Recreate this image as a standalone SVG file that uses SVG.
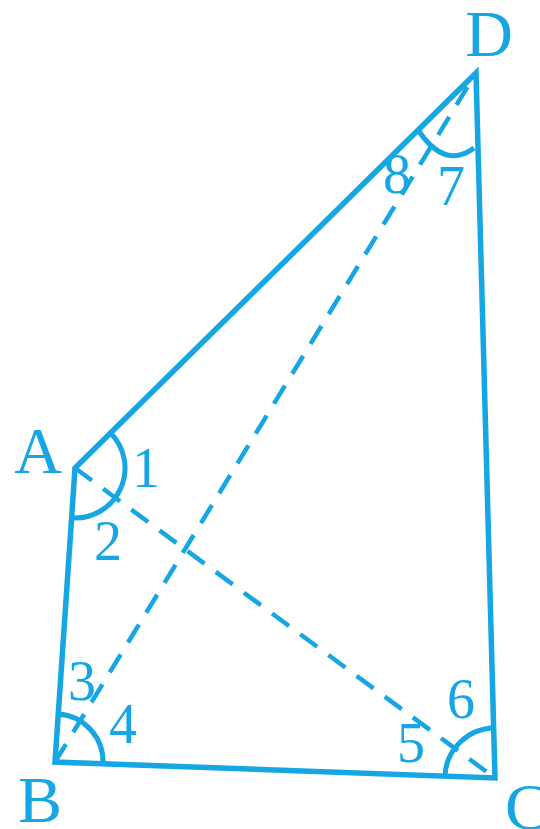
<svg xmlns="http://www.w3.org/2000/svg" width="540" height="829" viewBox="0 0 540 829">
  <style>
    .edge { stroke: #16a6e3; stroke-width: 5.5; fill: none; stroke-linejoin: miter; }
    .diag { stroke: #16a6e3; stroke-width: 4.5; fill: none; stroke-dasharray: 21 14; }
    .arc { stroke: #16a6e3; stroke-width: 5; fill: none; }
    .lbl { font-family: "Liberation Serif", "Times New Roman", serif; font-size: 66px; fill: #16a6e3; text-anchor: middle; }
    .num { font-family: "Liberation Serif", "Times New Roman", serif; font-size: 56px; fill: #16a6e3; text-anchor: middle; }
  </style>
  <rect width="540" height="829" fill="#ffffff"/>

  <g id="connectors">
    <path id="quad" class="edge" d="M75,468 L476,73 L495,778 L55,762 Z"/>
    <line id="diag-AC" class="diag" x1="75" y1="468" x2="495" y2="778"/>
    <line id="diag-BD" class="diag" x1="55" y1="762" x2="476" y2="73"/>
  </g>

  <g id="angle-arcs">
    <path id="arc-A" class="arc" d="M110.6,432.9 A50,50 0 0 1 71.6,517.9"/>
    <path id="arc-B" class="arc" d="M58.3,714 A48,48 0 0 1 103,763.7"/>
    <path id="arc-C" class="arc" d="M445,776.2 A50,50 0 0 1 493.7,728"/>
    <path id="arc-D" class="arc" d="M418,130 Q445,170 474,148"/>
  </g>

  <g id="node-A"><text class="lbl" x="38" y="473">A</text></g>
  <g id="node-B"><text class="lbl" x="40" y="822">B</text></g>
  <g id="node-C"><text class="lbl" x="527" y="829">C</text></g>
  <g id="node-D"><text class="lbl" x="489" y="56">D</text></g>

  <g id="angle-labels">
    <text class="num" x="146" y="487">1</text>
    <text class="num" x="108" y="560">2</text>
    <text class="num" x="82" y="700">3</text>
    <text class="num" x="123" y="743">4</text>
    <text class="num" x="411" y="762">5</text>
    <text class="num" x="461" y="718">6</text>
    <text class="num" x="451" y="205">7</text>
    <text class="num" x="397" y="193">8</text>
  </g>
</svg>
